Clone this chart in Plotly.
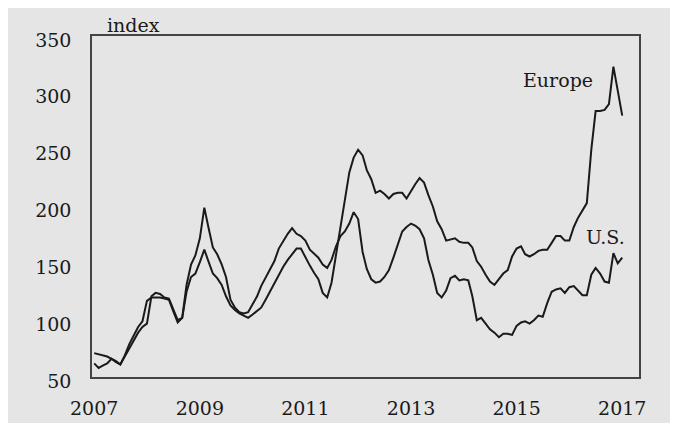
import pandas as pd
import plotly.graph_objects as go

# monthly index values, Jan 2007 - Jan 2017
months = pd.date_range("2007-01-01", periods=121, freq="MS")

us = [71, 70, 69, 68, 66, 63, 61, 68, 76, 83, 89, 94,
      97, 121, 124, 123, 120, 119, 109, 100, 102, 131, 149, 157,
      172, 199, 182, 164, 158, 149, 138, 118, 111, 107, 106, 107,
      114, 121, 130, 137, 144, 152, 163, 170, 176, 181, 176, 174,
      170, 162, 159, 155, 149, 146, 153, 165, 174, 178, 185, 195,
      189, 160, 145, 136, 133, 134, 138, 144, 155, 166, 178, 182,
      185, 183, 180, 172, 153, 140, 124, 120, 126, 137, 139, 135,
      136, 135, 121, 100, 102, 97, 92, 89, 85, 88, 88, 87,
      95, 98, 99, 97, 100, 104, 103, 115, 125, 127, 128, 124,
      129, 130, 126, 122, 122, 140, 146, 141, 134, 133, 159, 150,
      155]

europe = [62, 58, 60, 62, 66, 64, 61, 69, 79, 87, 94, 99,
          117, 120, 120, 120, 119, 118, 108, 98, 102, 125, 138, 141,
          151, 162, 152, 141, 137, 131, 121, 113, 109, 106, 104, 102,
          105, 108, 111, 118, 125, 133, 140, 147, 153, 158, 163, 163,
          155, 148, 142, 136, 124, 120, 133, 158, 183, 205, 230, 243,
          250, 245, 232, 224, 212, 214, 211, 207, 211, 212, 212, 207,
          214, 220, 225, 221, 210, 200, 187, 180, 170, 171, 172, 169,
          168, 168, 164, 152, 147, 140, 134, 131, 136, 141, 144, 156,
          163, 165, 158, 156, 158, 161, 162, 162, 168, 174, 174, 170,
          170, 182, 190, 197, 203, 250, 284, 284, 285, 290, 323, 302,
          280]

year_ticks = ["2007", "2009", "2011", "2013", "2015", "2017"]

FONT = "DejaVu Serif"
INK = "#1a1a1a"
BG = "#e5e5e5"

fig = go.Figure()
for name, vals in [("Europe", europe), ("U.S.", us)]:
    fig.add_trace(go.Scatter(x=months, y=vals, mode="lines", name=name,
                             line=dict(color=INK, width=2)))

# the page keeps its default 8px body margin, which gives the white edge
fig.update_layout(
    width=670, height=415,
    margin=dict(l=84, r=39, t=28, b=46, autoexpand=False),
    paper_bgcolor=BG,
    plot_bgcolor=BG,
    showlegend=False,
    font=dict(family=FONT, size=19, color=INK),
)

fig.update_xaxes(
    type="date",
    range=["2006-12-17", "2017-04-27"],
    tickvals=[f"{y}-01-01" for y in year_ticks],
    ticktext=year_ticks,
    showgrid=False, zeroline=False, automargin=False,
    showline=True, mirror=True, linecolor="#444", linewidth=1.5,
    ticks="", ticklabelstandoff=13,
)
fig.update_yaxes(
    range=[50, 350],
    tickvals=[50, 100, 150, 200, 250, 300, 350],
    showgrid=False, zeroline=False, automargin=False,
    showline=True, mirror=True, linecolor="#444", linewidth=1.5,
    ticks="", ticklabelstandoff=15, ticklabelshift=4,
)

fig.add_annotation(text="index", xref="paper", yref="paper", x=0.024, y=1,
                   xanchor="left", yanchor="bottom", showarrow=False, yshift=-2)
fig.add_annotation(text="Europe", x="2015-10-15", y=311, showarrow=False)
fig.add_annotation(text="U.S.", x="2016-09-05", y=173, showarrow=False)

fig.write_html("out.html")
